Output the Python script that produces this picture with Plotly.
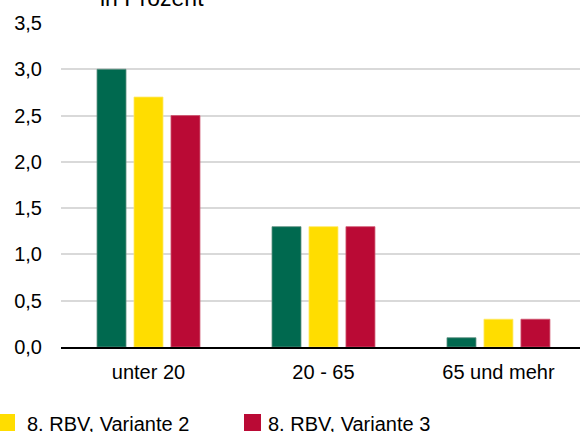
import plotly.graph_objects as go

categories = ["unter 20", "20 - 65", "65 und mehr"]
series_names = ["8. RBV, Variante 1", "8. RBV, Variante 2", "8. RBV, Variante 3"]
values_v1 = [3.0, 1.3, 0.1]
values_v2 = [2.7, 1.3, 0.3]
values_v3 = [2.5, 1.3, 0.3]
colors = ["#00694F", "#FFDD00", "#BA0A35"]
edge_colors = ["#5E8F80", "#FFE866", "#CF5570"]
title_text = "in Prozent"

W, H = 580, 432
L, R, T, B = 61, 0, 23, 85
PW = W - L - R
PH = H - T - B
FONT = "Liberation Sans, Arial, sans-serif"
FS = 20


def px_x(p):
    return (p - L) / PW


def px_y(p):
    return (H - B - p) / PH


fig = go.Figure()
for name, vals, col, ec in zip(series_names, [values_v1, values_v2, values_v3], colors, edge_colors):
    fig.add_trace(go.Bar(
        x=categories, y=vals, name=name,
        marker=dict(color=col, line=dict(color=ec, width=0.8)),
        showlegend=False,
    ))

annotations = [
    dict(text=title_text, x=px_x(98), y=px_y(-2), xref="paper", yref="paper",
         xanchor="left", yanchor="middle", showarrow=False,
         font=dict(size=23, color="#000000", family=FONT)),
]
shapes = []
# manual legend (first entry lies outside the visible crop)
legend_items = [(series_names[1], colors[1], -2, 25), (series_names[2], colors[2], 244, 266)]
for name, col, sx, tx in legend_items:
    shapes.append(dict(type="rect", xref="paper", yref="paper",
                       x0=px_x(sx), x1=px_x(sx + 17), y0=px_y(414), y1=px_y(431),
                       fillcolor=col, line=dict(width=0)))
    annotations.append(dict(text=name, x=px_x(tx), y=px_y(424), xref="paper", yref="paper",
                            xanchor="left", yanchor="middle", showarrow=False,
                            font=dict(size=FS, color="#000000", family=FONT)))

fig.update_layout(
    width=W, height=H,
    margin=dict(l=L, r=R, t=T, b=B, pad=0),
    paper_bgcolor="white", plot_bgcolor="white",
    barmode="group", bargap=0.366, bargroupgap=0.216,
    separators=",.",
    font=dict(family=FONT, size=FS, color="#000000"),
    annotations=annotations, shapes=shapes,
    showlegend=False,
)
fig.update_xaxes(
    range=[-0.5, 2.466], showgrid=False,
    showline=True, linecolor="#000000", linewidth=2,
    ticks="outside", ticklen=6, tickcolor="rgba(0,0,0,0)",
    tickfont=dict(size=FS, family=FONT, color="#000000"),
    fixedrange=True,
)
fig.update_yaxes(
    range=[0, 3.5], dtick=0.5, tick0=0, tickformat=".1f",
    showgrid=True, gridcolor="#D9D9D9", gridwidth=1.6,
    showline=False, zeroline=False,
    ticks="outside", ticklen=14, tickcolor="rgba(0,0,0,0)",
    tickfont=dict(size=FS, family=FONT, color="#000000"),
    fixedrange=True,
)

fig.write_html(
    "out.html",
    config={"displayModeBar": False},
    post_script="document.body.style.margin='0';document.body.style.overflow='hidden';",
)
